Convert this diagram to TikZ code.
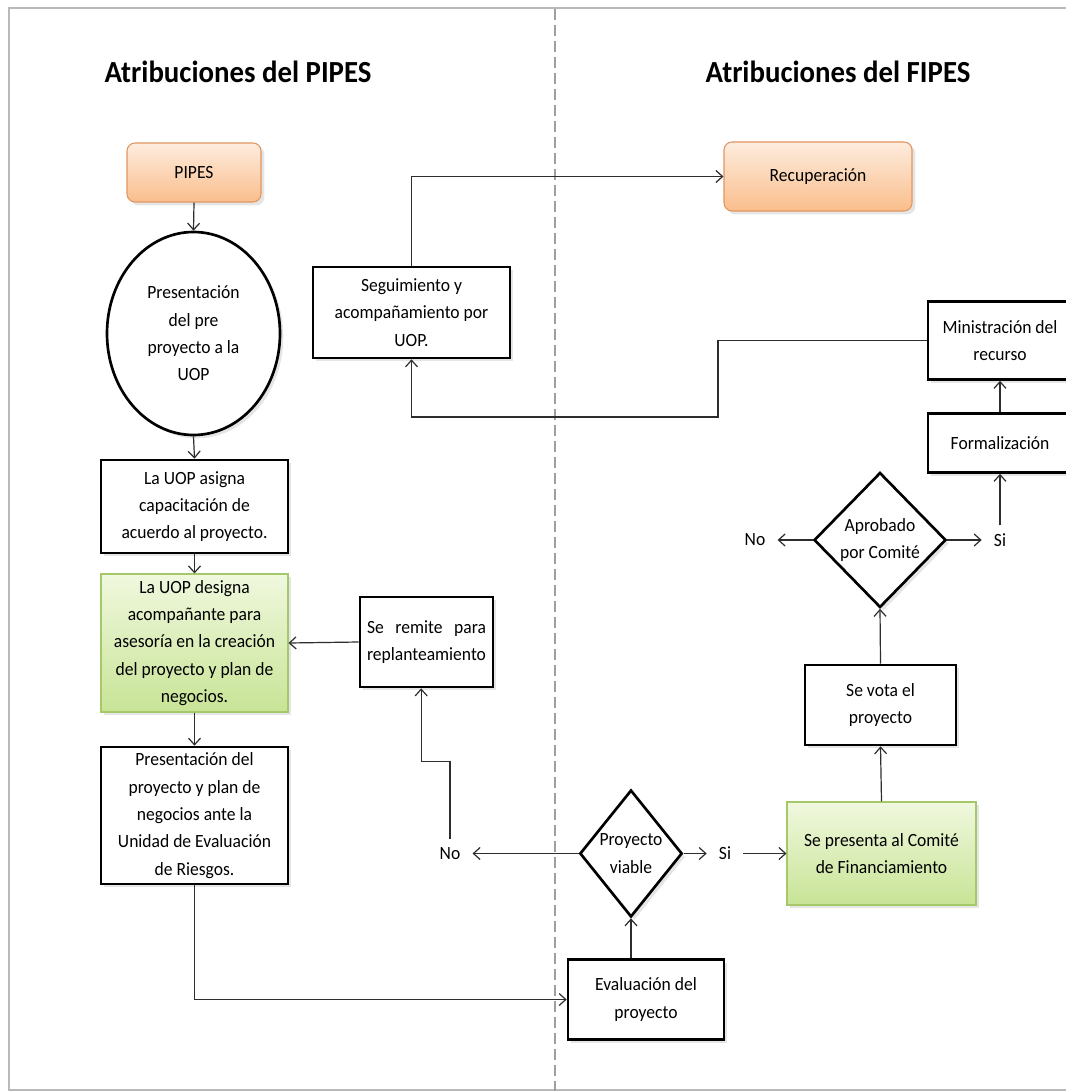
\documentclass[tikz,border=0pt]{standalone}
\usepackage{fontspec}
\setmainfont{Carlito}[FakeStretch=0.94]
\usepackage{calc}
\usetikzlibrary{arrows.meta,shapes.geometric,shadows}

\definecolor{orangetop}{RGB}{253,236,222}
\definecolor{orangebot}{RGB}{250,190,140}
\definecolor{orangeline}{RGB}{225,150,95}
\definecolor{greentop}{RGB}{240,248,222}
\definecolor{greenbot}{RGB}{200,228,150}
\definecolor{greenline}{RGB}{165,200,105}
\definecolor{connline}{RGB}{45,45,45}

\tikzset{
  txt/.style={font=\fontsize{14}{20.5}\selectfont},
  softshadow/.style={drop shadow={shadow xshift=2.5pt,shadow yshift=-2.5pt,opacity=0.2}},
  procbox/.style={txt,draw=black,line width=2pt,fill=white,align=center,inner sep=2pt,softshadow},
  greenbox/.style={txt,draw=greenline,line width=0.8pt,top color=greentop,bottom color=greenbot,align=center,inner sep=2pt,softshadow},
  termbox/.style={txt,draw=orangeline,line width=0.8pt,rounded corners=6pt,top color=orangetop,bottom color=orangebot,align=center,softshadow},
  decision/.style={txt,diamond,draw=black,line width=2pt,fill=white,align=center,inner sep=0pt,softshadow},
  startell/.style={txt,ellipse,draw=black,line width=2pt,fill=white,align=center,inner sep=0pt,softshadow},
  lbl/.style={txt,inner xsep=9pt,inner ysep=6pt},
  ttl/.style={font=\fontsize{23}{28}\selectfont\bfseries},
  conn/.style={->,line width=0.9pt,draw=connline},
}

\begin{document}
\begin{tikzpicture}[x=0.75pt,y=-0.75pt,>={Straight Barb[length=5pt,width=9pt]}]

\useasboundingbox [fill=white] (0,0) rectangle (1066,1091);
\draw [gray!55,line width=1.2pt] (9,8) rectangle (1080,1090);
\draw [gray!75,line width=1pt,dash pattern=on 8pt off 4pt] (555,9) -- (555,1091);

% titulos
\node [ttl] (ttlA) at (238,72) {Atribuciones del PIPES};
\node [ttl] (ttlB) at (838,72) {Atribuciones del FIPES};

% columna PIPES
\node [termbox,minimum width=100.5pt,minimum height=44.25pt] (pipes) at (194,172.5) {PIPES};
\node [startell,minimum width=129.75pt,minimum height=152.25pt] (presen) at (193.5,333.5) {Presentación\\del pre\\proyecto a la\\UOP};
\node [procbox,minimum width=140.25pt,minimum height=69.75pt] (asigna) at (194.5,506.5) {La UOP asigna\\capacitación de\\acuerdo al proyecto.};
\node [greenbox,minimum width=140.25pt,minimum height=103.5pt] (designa) at (194.5,643) {La UOP designa\\acompañante para\\asesoría en la creación\\del proyecto y plan de\\negocios.};
\node [procbox,minimum width=140.25pt,minimum height=102.75pt] (presproy) at (194.5,815.5) {Presentación del\\proyecto y plan de\\negocios ante la\\Unidad de Evaluación\\de Riesgos.};
\node [procbox,minimum width=99.75pt,minimum height=67.5pt] (remite) at (426.5,642) {\makebox[\widthof{replanteamiento}][s]{Se remite para}\\replanteamiento};
\node [procbox,minimum width=147.75pt,minimum height=68.25pt] (seguim) at (411.5,312.5) {Seguimiento y\\acompañamiento por\\UOP.};

% columna FIPES
\node [termbox,minimum width=141pt,minimum height=51.75pt] (recup) at (818,176.5) {Recuperación};
\node [procbox,minimum width=108pt,minimum height=58.5pt] (minis) at (1000,340.5) {Ministración del\\recurso};
\node [procbox,minimum width=108pt,minimum height=44.25pt] (formal) at (1000,443) {Formalización};
\node [decision,minimum width=99pt,minimum height=101.25pt] (aprob) at (880,540) {Aprobado\\por Comité};
\node [lbl] (noA) at (755,540) {No};
\node [lbl] (siA) at (1000,540) {Si};
\node [procbox,minimum width=113.25pt,minimum height=60pt] (vota) at (880.5,705) {Se vota el\\proyecto};
\node [greenbox,minimum width=141.75pt,minimum height=77.25pt] (financ) at (881.5,853.5) {Se presenta al Comité\\de Financiamiento};
\node [decision,minimum width=73.5pt,minimum height=95.25pt] (viable) at (631,853.5) {Proyecto\\viable};
\node [lbl] (noV) at (450,853.5) {No};
\node [lbl] (siV) at (725,853.5) {Si};
\node [procbox,minimum width=117pt,minimum height=60pt] (eval) at (646,999.5) {Evaluación del\\proyecto};

\coordinate (ret) at (718,417);

% conectores
\draw [conn] (pipes.south) -- (presen.north);
\draw [conn] (presen.south) -- (asigna.north);
\draw [conn] (asigna.south) -- (designa.north);
\draw [conn] (designa.south) -- (presproy.north);
\draw [conn] (remite.west) -- (designa.east);
\draw [conn] (presproy.south) |- (eval.west);
\draw [conn] (viable.south |- eval.north) -- (viable.south);
\draw [conn] (viable.west) -- (noV.east);
\draw [conn] (viable.east) -- (siV.west);
\draw [conn] (siV.east) -- (financ.west);
\draw [conn] (noV.north) |- ([xshift=-4pt,yshift=-55pt]remite.south) -- ([xshift=-4pt]remite.south);
\draw [conn] (financ.north) -- (vota.south);
\draw [conn] (vota.north) -- (aprob.south);
\draw [conn] (aprob.west) -- (noA.east);
\draw [conn] (aprob.east) -- (siA.west);
\draw [conn] (siA.north) -- (siA.north |- formal.south);
\draw [conn] (formal.north) -- (formal.north |- minis.south);
\draw [conn] (minis.west) -| (ret) -| (seguim.south);
\draw [conn] (seguim.north) |- (recup.west);

\end{tikzpicture}
\end{document}
